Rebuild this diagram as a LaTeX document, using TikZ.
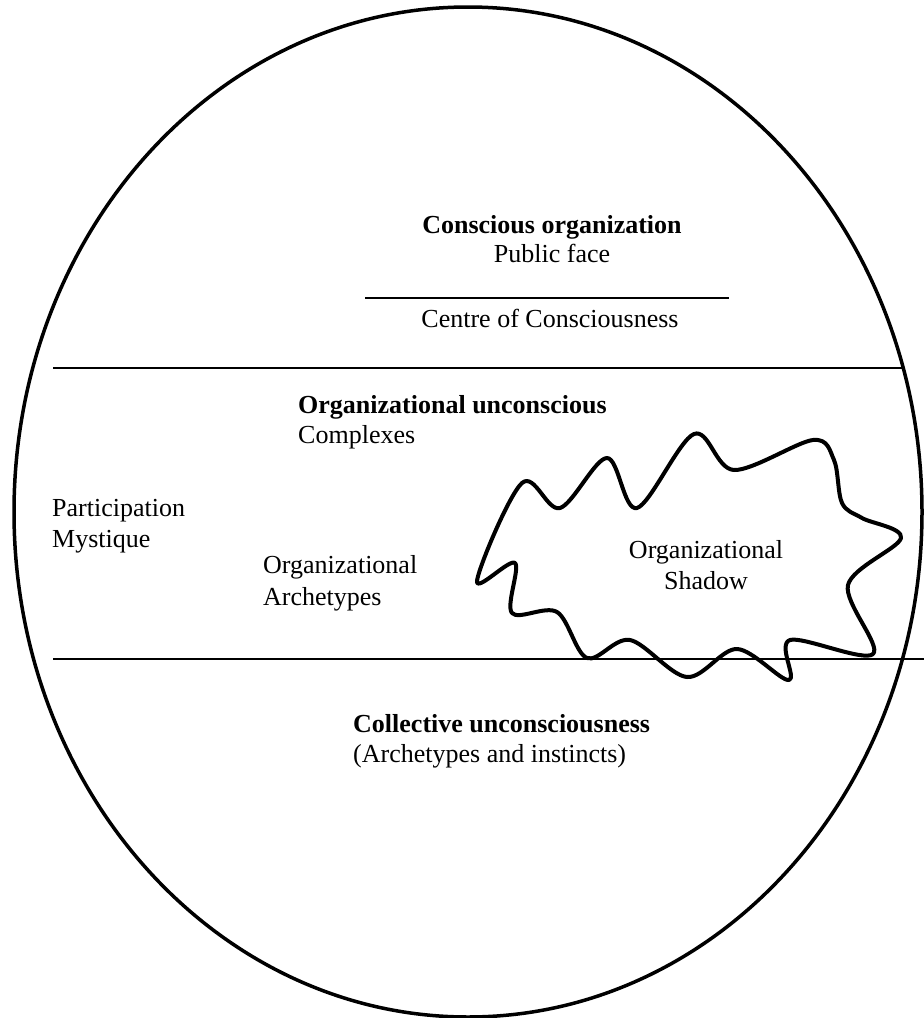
\documentclass[tikz,border=0pt]{standalone}
\usepackage{fontspec}
\setmainfont{Liberation Serif}
\usetikzlibrary{positioning}

\begin{document}
\begin{tikzpicture}[x=1pt, y=-1pt, font=\fontsize{26}{30}\selectfont]
% Define styles
\tikzstyle{textline} = [inner sep=0pt, anchor=base]
\tikzstyle{leftline} = [inner sep=0pt, anchor=base west]
\tikzstyle{divider} = [line width=1.4pt, draw=black]
\tikzstyle{psyche} = [line width=3.5pt, draw=black]
\tikzstyle{shadow} = [line width=4pt, draw=black, line join=round]

\useasboundingbox (0,0) rectangle (924,1018);

% Outer psyche of the organization
\draw[psyche] (468,512) ellipse [x radius=454, y radius=505];

% Layer dividers
\coordinate (UpperL) at (53,368);
\coordinate (UpperR) at (902,368);
\coordinate (LowerL) at (53,659);
\coordinate (LowerR) at (924,659);
\coordinate (CentreL) at (365,298);
\coordinate (CentreR) at (729,298);
\draw[divider] (UpperL) -- (UpperR);
\draw[divider] (LowerL) -- (LowerR);
\draw[divider] (CentreL) -- (CentreR);

% Conscious layer
\node[textline] (ConsciousOrg) at (552,233) {\textbf{Conscious organization}};
\node[textline, below=29pt of ConsciousOrg.base, anchor=base] (PublicFace) {Public face};
\node[textline] (CentreCon) at (550,327) {Centre of Consciousness};

% Organizational unconscious layer
\node[leftline] (OrgUnconscious) at (298,413) {\textbf{Organizational unconscious}};
\node[leftline, below=30pt of OrgUnconscious.base west, anchor=base west] (Complexes) {Complexes};
\node[leftline] (Participation) at (52,516) {Participation};
\node[leftline, below=31pt of Participation.base west, anchor=base west] (Mystique) {Mystique};
\node[leftline] (OrgArch) at (263,573) {Organizational};
\node[leftline, below=32pt of OrgArch.base west, anchor=base west] (Archetypes) {Archetypes};

% Organizational shadow (cloud)
\draw[shadow] plot[smooth cycle, tension=0.55] coordinates {
  (477,581) (522,483) (560,508) (607,458) (637,508) (694,434) (734,470)
  (813,440) (834,460) (842,503) (862,518) (901,538) (848,585) (873,654)
  (790,640) (789,680) (737,649) (687,677) (630,640) (587,658) (557,612)
  (512,613) (515,563)};
\node[textline] (ShadowA) at (706,558) {Organizational};
\node[textline, below=31pt of ShadowA.base, anchor=base] (ShadowB) {Shadow};

% Collective layer
\node[leftline] (Collective) at (353,732) {\textbf{Collective unconsciousness}};
\node[leftline, below=30pt of Collective.base west, anchor=base west] (Instincts) {(Archetypes and instincts)};

\end{tikzpicture}
\end{document}
